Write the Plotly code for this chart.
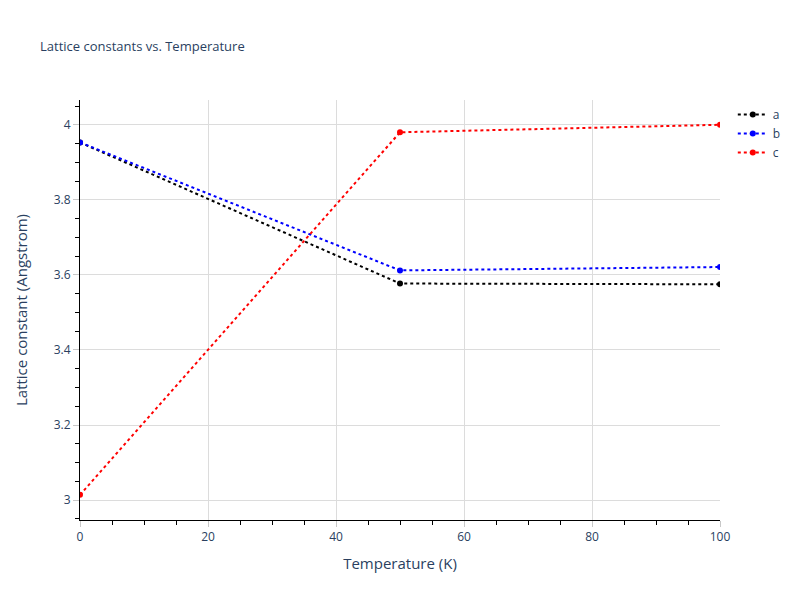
import plotly.graph_objects as go

temperature = [0, 50, 100]
a_vals = [3.953, 3.577, 3.575]
b_vals = [3.953, 3.612, 3.621]
c_vals = [3.014, 3.980, 4.000]

series = [("a", a_vals, "black"), ("b", b_vals, "blue"), ("c", c_vals, "red")]

fig = go.Figure()
for name, vals, color in series:
    fig.add_trace(go.Scatter(
        x=temperature, y=vals, name=name, mode="lines+markers",
        line=dict(color=color, dash="dot", width=2),
        marker=dict(color=color, size=6),
    ))

axis_common = dict(
    showline=True, linecolor="black", linewidth=1,
    showgrid=True, gridcolor="rgb(220,220,220)",
    ticks="outside", tickcolor="rgb(200,200,200)", ticklen=6,
    minor=dict(ticks="outside", tickcolor="black", ticklen=4, showgrid=False),
    zeroline=False,
    tickfont=dict(size=12, color="#2a3f5f"),
    title_font=dict(size=15, color="#2a3f5f"),
)

fig.update_layout(
    width=800, height=600,
    paper_bgcolor="white", plot_bgcolor="white",
    font=dict(family="Open Sans, Arial, sans-serif", color="#2a3f5f"),
    title=dict(text="Lattice constants vs. Temperature", x=0.05, y=0.93,
               font=dict(size=13, color="#2a3f5f")),
    margin=dict(l=80, r=80, t=100, b=80),
    legend=dict(font=dict(size=12)),
    xaxis=dict(title=dict(text="Temperature (K)", standoff=14), range=[0, 100], dtick=20, **axis_common),
    yaxis=dict(title=dict(text="Lattice constant (Angstrom)", standoff=22), range=[2.947, 4.066], dtick=0.2, **axis_common),
)

fig.write_html(
    "out.html",
    config={"displayModeBar": False},
    post_script="document.body.style.margin='0';document.body.style.overflow='hidden';",
)
